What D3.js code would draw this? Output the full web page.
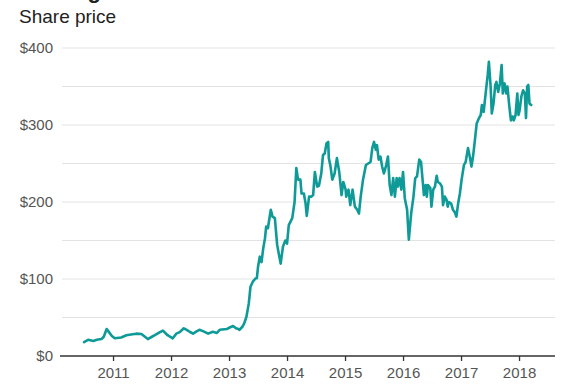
<!DOCTYPE html>
<html>
<head>
<meta charset="utf-8">
<script src="https://cdn.jsdelivr.net/npm/d3@7"></script>
<style>
  body { margin: 0; background: #fff; }
  svg text { font-family: "Liberation Sans", Arial, Helvetica, sans-serif; }
</style>
</head>
<body>
<div id="chart"></div>
<script>
// time as decimal years, price in dollars
const years = [
  2010.50, 2010.57, 2010.66, 2010.72, 2010.80, 2010.84, 2010.89, 2010.93, 2010.98, 2011.03,
  2011.14, 2011.23, 2011.31, 2011.40, 2011.49, 2011.55, 2011.60, 2011.67, 2011.72, 2011.81,
  2011.86, 2011.94, 2012.03, 2012.09, 2012.15, 2012.22, 2012.27, 2012.32, 2012.38, 2012.44,
  2012.49, 2012.56, 2012.64, 2012.72, 2012.79, 2012.84, 2012.96, 2013.01, 2013.07, 2013.12,
  2013.16, 2013.18, 2013.23, 2013.26, 2013.30, 2013.34, 2013.37, 2013.41, 2013.46, 2013.48,
  2013.50, 2013.53, 2013.56, 2013.59, 2013.62, 2013.64, 2013.67, 2013.72, 2013.75, 2013.79,
  2013.83, 2013.89, 2013.93, 2013.97, 2014.00, 2014.03, 2014.09, 2014.13, 2014.16, 2014.19,
  2014.23, 2014.25, 2014.29, 2014.32, 2014.34, 2014.38, 2014.42, 2014.45, 2014.48, 2014.52,
  2014.55, 2014.59, 2014.62, 2014.65, 2014.68, 2014.71, 2014.72, 2014.75, 2014.78, 2014.82,
  2014.86, 2014.90, 2014.94, 2014.97, 2015.01, 2015.02, 2015.06, 2015.09, 2015.13, 2015.17,
  2015.21, 2015.24, 2015.27, 2015.31, 2015.36, 2015.40, 2015.44, 2015.47, 2015.50, 2015.53,
  2015.55, 2015.58, 2015.61, 2015.64, 2015.67, 2015.71, 2015.74, 2015.77, 2015.80, 2015.83,
  2015.86, 2015.89, 2015.91, 2015.94, 2015.97, 2016.00, 2016.03, 2016.07, 2016.10, 2016.14,
  2016.18, 2016.21, 2016.24, 2016.28, 2016.31, 2016.33, 2016.36, 2016.39, 2016.41, 2016.43,
  2016.47, 2016.49, 2016.52, 2016.55, 2016.58, 2016.60, 2016.64, 2016.67, 2016.69, 2016.72,
  2016.75, 2016.77, 2016.79, 2016.83, 2016.86, 2016.89, 2016.92, 2016.95, 2016.98, 2017.01,
  2017.05, 2017.08, 2017.12, 2017.15, 2017.18, 2017.21, 2017.24, 2017.27, 2017.31, 2017.34,
  2017.36, 2017.39, 2017.43, 2017.46, 2017.48, 2017.51, 2017.53, 2017.56, 2017.59, 2017.61,
  2017.64, 2017.67, 2017.70, 2017.72, 2017.75, 2017.78, 2017.80, 2017.83, 2017.86, 2017.89,
  2017.91, 2017.94, 2017.97, 2017.99, 2018.01, 2018.04, 2018.07, 2018.10, 2018.12, 2018.14,
  2018.16, 2018.18, 2018.21
];
const prices = [
  18, 21, 19.5, 21, 22, 25, 35, 31, 26, 23,
  24, 27, 28, 29, 28.5, 25, 22, 25, 27, 31,
  33, 27, 23, 29, 31, 36, 34, 31.5, 29, 32,
  34, 32, 29, 31.5, 30, 34, 35, 37, 39, 36,
  35, 34, 38, 42, 51, 68, 90, 96.5, 101, 101,
  116, 129, 122, 140, 153, 168, 166, 190, 181, 179,
  144, 120, 142, 150, 146, 170, 179, 200, 244, 229,
  229, 211, 211, 198, 182, 207, 207, 209, 239, 220,
  221, 237, 261, 263, 276, 278, 257, 246, 229, 237,
  257, 239, 209, 226, 216, 207, 216, 196, 216, 194,
  190, 185, 207, 229, 248, 250, 252, 270, 278, 268,
  274, 255, 259, 246, 237, 248, 259, 222, 209, 231,
  207, 231, 220, 231, 216, 239, 205, 190, 151, 185,
  207, 231, 233, 255, 252, 235, 209, 222, 207, 222,
  218, 194, 216, 220, 234, 226, 224, 220, 196, 207,
  203, 194, 200, 198, 190, 187, 181, 198, 211, 229,
  248, 252, 270, 259, 246, 261, 281, 302, 309, 313,
  326, 317, 345, 365, 382, 350, 315, 328, 352, 356,
  343, 354, 378, 341, 354, 341, 350, 326, 306, 311,
  306, 313, 341, 313, 319, 337, 345, 341, 309, 350,
  352, 328, 326
];
const yTicks = [0, 100, 200, 300, 400];
const gridValues = [50, 100, 150, 200, 250, 300, 350, 400];
const xTicks = [2011, 2012, 2013, 2014, 2015, 2016, 2017, 2018];

const width = 564, height = 389;
const margin = { top: 48, right: 9, bottom: 33, left: 62 };

const data = years.map((t, i) => ({ t: t, v: prices[i] }));

const svg = d3.select("#chart")
  .append("svg")
  .attr("width", width)
  .attr("height", height);

const x = d3.scaleLinear()
  .domain([2010.12, 2018.62])
  .range([margin.left, width - margin.right]);

const y = d3.scaleLinear()
  .domain([0, 400])
  .range([height - margin.bottom, margin.top]);

// title (mostly cropped off the top) and subtitle
svg.append("text")
  .attr("x", 19)
  .attr("y", -2)
  .attr("font-size", 22)
  .attr("font-weight", "bold")
  .attr("fill", "#222")
  .text("Soaring");

svg.append("text")
  .attr("x", 19)
  .attr("y", 22.5)
  .attr("font-size", 19)
  .attr("fill", "#222")
  .text("Share price");

// gridlines
svg.append("g")
  .selectAll("line")
  .data(gridValues)
  .join("line")
  .attr("x1", margin.left)
  .attr("x2", width - margin.right)
  .attr("y1", d => y(d))
  .attr("y2", d => y(d))
  .attr("stroke", "#e3e3e3")
  .attr("stroke-width", 1);

// y labels
svg.append("g")
  .selectAll("text")
  .data(yTicks)
  .join("text")
  .attr("x", 53)
  .attr("y", d => y(d))
  .attr("dy", "0.36em")
  .attr("text-anchor", "end")
  .attr("font-size", 15)
  .attr("fill", "#555")
  .text(d => "$" + d);

// x axis
const xAxis = svg.append("g")
  .attr("transform", `translate(0,${y(0)})`)
  .call(d3.axisBottom(x).tickValues(xTicks).tickFormat(d3.format("d")).tickSize(5).tickPadding(6));

xAxis.select(".domain")
  .attr("d", `M${margin.left - 2},0H${width - margin.right}`)
  .attr("stroke", "#333")
  .attr("stroke-width", 1.6);
xAxis.selectAll(".tick line").attr("stroke", "#333").attr("stroke-width", 1.3);
xAxis.selectAll(".tick text")
  .attr("font-size", 15)
  .attr("fill", "#555")
  .attr("font-family", "Liberation Sans, Arial, sans-serif");

// price line
const line = d3.line()
  .x(d => x(d.t))
  .y(d => y(d.v));

svg.append("path")
  .datum(data)
  .attr("fill", "none")
  .attr("stroke", "#0e9a97")
  .attr("stroke-width", 2.6)
  .attr("stroke-linejoin", "round")
  .attr("stroke-linecap", "round")
  .attr("d", line);
</script>
</body>
</html>
